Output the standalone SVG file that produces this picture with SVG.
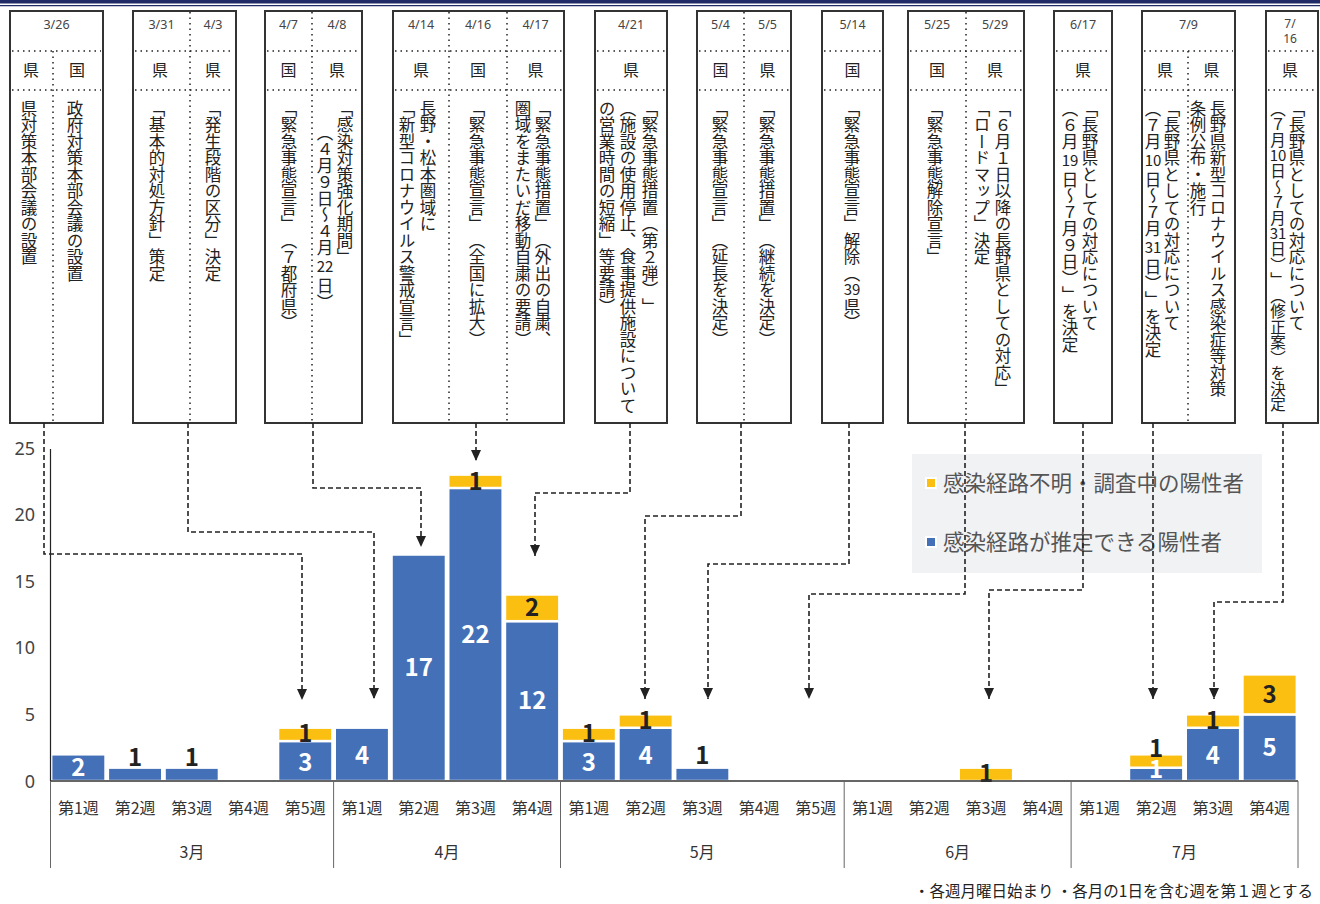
<svg xmlns="http://www.w3.org/2000/svg" width="1320" height="904" viewBox="0 0 1320 904">
<style>
.bx{fill:#fff;stroke:#333;stroke-width:2}
.dot{stroke:#222;stroke-width:1.5;stroke-dasharray:1.5 4;fill:none}
.dt{font-family:"Noto Sans","Liberation Sans",sans-serif;font-size:12.5px;fill:#444;text-anchor:middle}
.ty{font-family:"Noto Sans CJK JP",sans-serif;font-size:16px;fill:#222;text-anchor:middle}
.vt{font-family:"Noto Sans CJK JP",sans-serif;font-size:16.5px;fill:#222;writing-mode:vertical-rl;text-spacing-trim:space-all}
.vs{font-size:15.5px}
.hn{font-family:"Noto Sans CJK JP",sans-serif;font-size:15px;fill:#222;text-anchor:middle}
.bl{fill:#4470B8;stroke:#fff;stroke-width:2.4}
.yl{fill:#FBBF12;stroke:#fff;stroke-width:2.4}
.lw{font-family:"Noto Sans CJK JP",sans-serif;font-size:24px;font-weight:700;fill:#fff;text-anchor:middle}
.lk{font-family:"Noto Sans CJK JP",sans-serif;font-size:24px;font-weight:700;fill:#222;text-anchor:middle}
.ax{font-family:"Noto Sans","Liberation Sans",sans-serif;font-size:18px;fill:#444;text-anchor:end}
.wk{font-family:"Noto Sans CJK JP",sans-serif;font-size:16px;fill:#333;text-anchor:middle}
.mo{font-family:"Noto Sans CJK JP",sans-serif;font-size:16px;fill:#333;text-anchor:middle}
.lg{font-family:"Noto Sans CJK JP",sans-serif;font-size:21.5px;fill:#555}
.cn{fill:none;stroke:#222;stroke-width:1.6;stroke-dasharray:5 3}
</style>
<defs>
<marker id="ah" markerUnits="userSpaceOnUse" markerWidth="12" markerHeight="11" refX="11" refY="5" orient="auto">
<path d="M0,0 L11,5 L0,10 z" fill="#222"/>
</marker>
</defs>
<rect x="0" y="0" width="1320" height="3.5" fill="#1f2a66"/>
<line x1="0" y1="5.6" x2="1320" y2="5.6" stroke="#1f2a66" stroke-width="1.2"/>

<g id="box1">
<rect class="bx" x="10" y="11" width="93" height="412"/>
<line class="dot" x1="12" y1="51" x2="101" y2="51"/><line class="dot" x1="12" y1="90" x2="101" y2="90"/>
<line class="dot" x1="53" y1="51" x2="53" y2="422"/>
<text class="dt" x="56.5" y="29">3/26</text>
<text class="ty" x="31" y="76">県</text><text class="ty" x="77" y="76">国</text>
<text class="vt" x="29" y="100">県対策本部会議の設置</text>
<text class="vt" x="75" y="100">政府対策本部会議の設置</text>
</g>

<g id="box2">
<rect class="bx" x="133" y="11" width="103" height="412"/>
<line class="dot" x1="135" y1="51" x2="234" y2="51"/><line class="dot" x1="135" y1="90" x2="234" y2="90"/>
<line class="dot" x1="190" y1="12" x2="190" y2="422"/>
<text class="dt" x="161.5" y="29">3/31</text><text class="dt" x="213" y="29">4/3</text>
<text class="ty" x="160" y="76">県</text><text class="ty" x="213" y="76">県</text>
<text class="vt" x="157" y="100">「基本的対処方針」策定</text>
<text class="vt" x="213" y="100">「発生段階の区分」決定</text>
</g>

<g id="box3">
<rect class="bx" x="265" y="11" width="97" height="412"/>
<line class="dot" x1="267" y1="51" x2="360" y2="51"/><line class="dot" x1="267" y1="90" x2="360" y2="90"/>
<line class="dot" x1="312" y1="12" x2="312" y2="422"/>
<text class="dt" x="288.5" y="29">4/7</text><text class="dt" x="337" y="29">4/8</text>
<text class="ty" x="288.5" y="76">国</text><text class="ty" x="337" y="76">県</text>
<text class="vt" x="289" y="100">「緊急事態宣言」（７都府県）</text>
<text class="vt" x="345" y="100">「感染対策強化期間」</text>
<text class="vt" x="325" y="124">（４月９日～４月</text>
<text class="hn" x="325" y="272">22</text>
<text class="vt" x="325" y="277.5">日）</text>
</g>

<g id="box4">
<rect class="bx" x="393" y="11" width="171" height="412"/>
<line class="dot" x1="395" y1="51" x2="562" y2="51"/><line class="dot" x1="395" y1="90" x2="562" y2="90"/>
<line class="dot" x1="449" y1="12" x2="449" y2="422"/>
<line class="dot" x1="507" y1="12" x2="507" y2="422"/>
<text class="dt" x="421" y="29">4/14</text><text class="dt" x="478" y="29">4/16</text><text class="dt" x="535.5" y="29">4/17</text>
<text class="ty" x="421" y="76">県</text><text class="ty" x="478" y="76">国</text><text class="ty" x="535.5" y="76">県</text>
<text class="vt" x="428" y="100">長野・松本圏域に</text>
<text class="vt" x="407" y="100">「新型コロナウイルス警戒宣言」</text>
<text class="vt" x="477" y="100">「緊急事態宣言」（全国に拡大）</text>
<text class="vt" x="543" y="100">「緊急事態措置」（外出の自粛、</text>
<text class="vt" x="523" y="100">圏域をまたいだ移動自粛の要請）</text>
</g>

<g id="box5">
<rect class="bx" x="595" y="11" width="72" height="412"/>
<line class="dot" x1="597" y1="51" x2="665" y2="51"/><line class="dot" x1="597" y1="90" x2="665" y2="90"/>
<text class="dt" x="631" y="29">4/21</text>
<text class="ty" x="631" y="76">県</text>
<text class="vt" x="650" y="100">「緊急事態措置（第２弾）」</text>
<text class="vt" x="628" y="100">（施設の使用停止、食事提供施設について</text>
<text class="vt" x="607" y="100">の営業時間の短縮」等要請）</text>
</g>

<g id="box6">
<rect class="bx" x="697" y="11" width="94" height="412"/>
<line class="dot" x1="699" y1="51" x2="789" y2="51"/><line class="dot" x1="699" y1="90" x2="789" y2="90"/>
<line class="dot" x1="744" y1="12" x2="744" y2="422"/>
<text class="dt" x="720.5" y="29">5/4</text><text class="dt" x="767.5" y="29">5/5</text>
<text class="ty" x="720.5" y="76">国</text><text class="ty" x="767.5" y="76">県</text>
<text class="vt" x="720" y="100">「緊急事態宣言」（延長を決定）</text>
<text class="vt" x="767" y="100">「緊急事態措置」（継続を決定）</text>
</g>

<g id="box7">
<rect class="bx" x="822" y="11" width="61" height="412"/>
<line class="dot" x1="824" y1="51" x2="881" y2="51"/><line class="dot" x1="824" y1="90" x2="881" y2="90"/>
<text class="dt" x="852.5" y="29">5/14</text>
<text class="ty" x="852.5" y="76">国</text>
<text class="vt" x="852" y="100">「緊急事態宣言」解除（</text>
<text class="hn" x="852" y="295">39</text>
<text class="vt" x="852" y="298">県）</text>
</g>

<g id="box8">
<rect class="bx" x="908" y="11" width="116" height="412"/>
<line class="dot" x1="910" y1="51" x2="1022" y2="51"/><line class="dot" x1="910" y1="90" x2="1022" y2="90"/>
<line class="dot" x1="966" y1="12" x2="966" y2="422"/>
<text class="dt" x="937" y="29">5/25</text><text class="dt" x="995" y="29">5/29</text>
<text class="ty" x="937" y="76">国</text><text class="ty" x="995" y="76">県</text>
<text class="vt" x="935" y="100">「緊急事態解除宣言」</text>
<text class="vt" x="1003" y="100">「６月１日以降の長野県としての対応」</text>
<text class="vt" x="982" y="100">「ロードマップ」決定</text>
</g>

<g id="box9">
<rect class="bx" x="1054" y="11" width="58" height="412"/>
<line class="dot" x1="1056" y1="51" x2="1110" y2="51"/><line class="dot" x1="1056" y1="90" x2="1110" y2="90"/>
<text class="dt" x="1083" y="29">6/17</text>
<text class="ty" x="1083" y="76">県</text>
<text class="vt" x="1090" y="100">「長野県としての対応について</text>
<text class="vt" x="1070" y="100">（６月</text>
<text class="hn" x="1070" y="165.5">19</text>
<text class="vt" x="1070" y="171">日～７月９日）」を決定</text>
</g>

<g id="box10">
<rect class="bx" x="1142" y="11" width="93" height="412"/>
<line class="dot" x1="1144" y1="51" x2="1233" y2="51"/><line class="dot" x1="1144" y1="90" x2="1233" y2="90"/>
<line class="dot" x1="1188" y1="51" x2="1188" y2="422"/>
<text class="dt" x="1188.5" y="29">7/9</text>
<text class="ty" x="1165" y="76">県</text><text class="ty" x="1211.5" y="76">県</text>
<text class="vt" x="1172" y="100">「長野県としての対応について</text>
<text class="vt" x="1153" y="100">（７月</text>
<text class="hn" x="1153" y="165.5">10</text>
<text class="vt" x="1153" y="171">日～７月</text>
<text class="hn" x="1153" y="253">31</text>
<text class="vt" x="1153" y="258.5">日）」を決定</text>
<text class="vt" x="1218" y="100">長野県新型コロナウイルス感染症等対策</text>
<text class="vt" x="1198" y="100">条例公布・施行</text>
</g>

<g id="box11">
<rect class="bx" x="1266" y="11" width="52" height="412"/>
<line class="dot" x1="1268" y1="51" x2="1316" y2="51"/><line class="dot" x1="1268" y1="90" x2="1316" y2="90"/>
<text class="dt" x="1290" y="27.5" style="font-size:12px">7/</text><text class="dt" x="1290" y="42.5" style="font-size:12px">16</text>
<text class="ty" x="1290" y="76">県</text>
<text class="vt" x="1297" y="100">「長野県としての対応について</text>
<text class="vt vs" x="1278" y="101">（７月</text>
<text class="hn" x="1278" y="160.5">10</text>
<text class="vt vs" x="1278" y="163.5">日～７月</text>
<text class="hn" x="1278" y="238.5">31</text>
<text class="vt vs" x="1278" y="241.5">日）」（修正案）を決定</text>
</g>

<g id="legend">
<rect x="912" y="454" width="350" height="119" fill="#f1f2f4"/>
<rect x="925" y="477" width="12" height="12" fill="#fff"/><rect x="927" y="479" width="8" height="8" fill="#FBBF12"/>
<text class="lg" x="943" y="491">感染経路不明・調査中の陽性者</text>
<rect x="925" y="536" width="12" height="12" fill="#fff"/><rect x="927" y="538" width="8" height="8" fill="#4470B8"/>
<text class="lg" x="943" y="550">感染経路が推定できる陽性者</text>
</g>

<g id="bars">
<rect class="bl" x="51.2" y="754.36" width="54.3" height="26.64"/>
<rect class="bl" x="107.9" y="767.68" width="54.3" height="13.32"/>
<rect class="bl" x="164.6" y="767.68" width="54.3" height="13.32"/>
<rect class="bl" x="278.1" y="741.04" width="54.3" height="39.96"/>
<rect class="yl" x="278.1" y="727.72" width="54.3" height="13.32"/>
<rect class="bl" x="334.8" y="727.72" width="54.3" height="53.28"/>
<rect class="bl" x="391.6" y="554.56" width="54.3" height="226.44"/>
<rect class="bl" x="448.3" y="487.96" width="54.3" height="293.04"/>
<rect class="yl" x="448.3" y="474.64" width="54.3" height="13.32"/>
<rect class="bl" x="505.0" y="621.16" width="54.3" height="159.84"/>
<rect class="yl" x="505.0" y="594.52" width="54.3" height="26.64"/>
<rect class="bl" x="561.7" y="741.04" width="54.3" height="39.96"/>
<rect class="yl" x="561.7" y="727.72" width="54.3" height="13.32"/>
<rect class="bl" x="618.5" y="727.72" width="54.3" height="53.28"/>
<rect class="yl" x="618.5" y="714.4" width="54.3" height="13.32"/>
<rect class="bl" x="675.2" y="767.68" width="54.3" height="13.32"/>
<rect class="yl" x="958.8" y="767.68" width="54.3" height="13.32"/>
<rect class="bl" x="1129.0" y="767.68" width="54.3" height="13.32"/>
<rect class="yl" x="1129.0" y="754.36" width="54.3" height="13.32"/>
<rect class="bl" x="1185.8" y="727.72" width="54.3" height="53.28"/>
<rect class="yl" x="1185.8" y="714.4" width="54.3" height="13.32"/>
<rect class="bl" x="1242.5" y="714.4" width="54.3" height="66.6"/>
<rect class="yl" x="1242.5" y="674.44" width="54.3" height="39.96"/>
</g>

<g id="bar-labels">
<text class="lw" x="78.4" y="776">2</text>
<text class="lk" x="135.1" y="766">1</text>
<text class="lk" x="191.8" y="766">1</text>
<text class="lw" x="305.3" y="771">3</text>
<text class="lk" x="305.3" y="742">1</text>
<text class="lw" x="362" y="764">4</text>
<text class="lw" x="418.7" y="676">17</text>
<text class="lw" x="475.5" y="643">22</text>
<text class="lk" x="475.5" y="490">1</text>
<text class="lw" x="532.2" y="709">12</text>
<text class="lk" x="532.2" y="616">2</text>
<text class="lw" x="588.9" y="771">3</text>
<text class="lk" x="588.9" y="742">1</text>
<text class="lw" x="645.6" y="764">4</text>
<text class="lk" x="645.6" y="729">1</text>
<text class="lk" x="702.4" y="764">1</text>
<text class="lk" x="986" y="782">1</text>
<text class="lw" x="1156.2" y="778">1</text>
<text class="lk" x="1156.2" y="757">1</text>
<text class="lw" x="1212.9" y="764">4</text>
<text class="lk" x="1212.9" y="729">1</text>
<text class="lw" x="1269.6" y="756">5</text>
<text class="lk" x="1269.6" y="703">3</text>
</g>

<g id="axes">
<line x1="50.5" y1="449" x2="50.5" y2="781" stroke="#222" stroke-width="1.2"/>
<line x1="50" y1="781" x2="1298" y2="781" stroke="#333" stroke-width="1.5"/>
<g stroke="#666" stroke-width="1">
<line x1="50.5" y1="781" x2="50.5" y2="868"/>
<line x1="333.6" y1="781" x2="333.6" y2="868"/>
<line x1="560.5" y1="781" x2="560.5" y2="868"/>
<line x1="844.2" y1="781" x2="844.2" y2="868"/>
<line x1="1071.1" y1="781" x2="1071.1" y2="868"/>
<line x1="1298" y1="781" x2="1298" y2="868"/>
</g>
<text class="ax" x="35" y="455">25</text>
<text class="ax" x="35" y="521">20</text>
<text class="ax" x="35" y="588">15</text>
<text class="ax" x="35" y="654">10</text>
<text class="ax" x="35" y="721">5</text>
<text class="ax" x="35" y="788">0</text>
<text class="wk" x="78.4" y="814">第1週</text>
<text class="wk" x="135.1" y="814">第2週</text>
<text class="wk" x="191.8" y="814">第3週</text>
<text class="wk" x="248.5" y="814">第4週</text>
<text class="wk" x="305.3" y="814">第5週</text>
<text class="wk" x="362" y="814">第1週</text>
<text class="wk" x="418.7" y="814">第2週</text>
<text class="wk" x="475.5" y="814">第3週</text>
<text class="wk" x="532.2" y="814">第4週</text>
<text class="wk" x="588.9" y="814">第1週</text>
<text class="wk" x="645.6" y="814">第2週</text>
<text class="wk" x="702.4" y="814">第3週</text>
<text class="wk" x="759.1" y="814">第4週</text>
<text class="wk" x="815.8" y="814">第5週</text>
<text class="wk" x="872.5" y="814">第1週</text>
<text class="wk" x="929.3" y="814">第2週</text>
<text class="wk" x="986" y="814">第3週</text>
<text class="wk" x="1042.7" y="814">第4週</text>
<text class="wk" x="1099.5" y="814">第1週</text>
<text class="wk" x="1156.2" y="814">第2週</text>
<text class="wk" x="1212.9" y="814">第3週</text>
<text class="wk" x="1269.6" y="814">第4週</text>
<text class="mo" x="192" y="858">3月</text>
<text class="mo" x="447" y="858">4月</text>
<text class="mo" x="702.3" y="858">5月</text>
<text class="mo" x="957.6" y="858">6月</text>
<text class="mo" x="1184.5" y="858">7月</text>
</g>

<g id="connectors">
<path class="cn" marker-end="url(#ah)" d="M44 423 V554 H302 V700"/>
<path class="cn" marker-end="url(#ah)" d="M188 423 V532 H374 V699"/>
<path class="cn" marker-end="url(#ah)" d="M313 423 V488 H421 V547"/>
<path class="cn" marker-end="url(#ah)" d="M476 423 V461"/>
<path class="cn" marker-end="url(#ah)" d="M630 423 V493 H535 V556"/>
<path class="cn" marker-end="url(#ah)" d="M741 423 V516 H645 V699"/>
<path class="cn" marker-end="url(#ah)" d="M849 423 V564 H708 V699"/>
<path class="cn" marker-end="url(#ah)" d="M965 423 V594 H809 V699"/>
<path class="cn" marker-end="url(#ah)" d="M1083 423 V590 H989 V699"/>
<path class="cn" marker-end="url(#ah)" d="M1153 423 V699"/>
<path class="cn" marker-end="url(#ah)" d="M1283 423 V602 H1214 V699"/>
</g>

<text x="1313" y="897" font-family="'Noto Sans CJK JP',sans-serif" font-size="15.5" fill="#222" text-anchor="end">・各週月曜日始まり ・各月の1日を含む週を第１週とする</text>
</svg>
